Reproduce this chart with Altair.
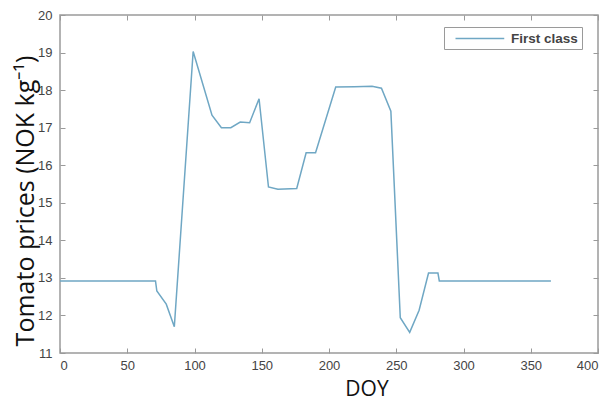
import altair as alt
import pandas as pd

doy = [0, 71, 72, 79, 85, 99, 113, 120, 127, 134, 141, 148, 155, 162, 176,
       183, 190, 205, 219, 232, 239, 246, 253, 260, 267, 274, 281, 282, 365]
price = [12.92, 12.92, 12.65, 12.3, 11.7, 19.03, 17.33, 17.0, 17.0, 17.15,
         17.13, 17.77, 15.42, 15.36, 15.38, 16.33, 16.33, 18.08, 18.09, 18.1,
         18.05, 17.44, 11.94, 11.55, 12.14, 13.13, 13.13, 12.92, 12.92]
series = ["First class"] * len(doy)
x_ticks = [0, 50, 100, 150, 200, 250, 300, 350, 400]
y_ticks = [11, 12, 13, 14, 15, 16, 17, 18, 19, 20]

df = pd.DataFrame({"doy": doy, "price": price, "series": series})

LINE = "#6fa7c4"
AX = "#9a9a9a"
LAB = "#444444"

xscale = alt.Scale(domain=[0, 400], nice=False)
yscale = alt.Scale(domain=[11, 20], nice=False, zero=False)

main = alt.Chart(df).mark_line(strokeWidth=1.5).encode(
    x=alt.X("doy:Q", scale=xscale,
            axis=alt.Axis(orient="bottom", values=x_ticks, domain=False,
                          tickSize=5, offset=-5, tickColor=AX, tickWidth=1,
                          labelPadding=6, labelFontSize=13, labelColor=LAB,
                          labelFont="Liberation Sans", grid=False,
                          title="DOY", titleFont="Open Sans", titleFontSize=21,
                          titleFontWeight="normal", titleColor="#111",
                          titleX=306.5, titleAlign="center", titlePadding=6)),
    y=alt.Y("price:Q", scale=yscale,
            axis=alt.Axis(orient="left", values=y_ticks, domain=False,
                          tickSize=5, offset=-5, tickColor=AX, tickWidth=1,
                          labelPadding=8, labelFontSize=13, labelColor=LAB,
                          labelFont="Liberation Sans", grid=False,
                          title="Tomato prices (NOK kg\u207b\u00b9)",
                          titleFont="Open Sans", titleFontSize=25,
                          titleFontWeight="normal", titleColor="#111",
                          titleY=185.5, titleAlign="center",
                          titlePadding=-1)),
    color=alt.Color("series:N", scale=alt.Scale(range=[LINE]),
                    legend=alt.Legend(orient="none", legendX=384, legendY=12,
                                      title=None, symbolType="M0,0H7.5",
                                      symbolSize=169, symbolStrokeWidth=1.5,
                                      labelFontSize=13.5, labelFont="Liberation Sans",
                                      labelFontWeight="bold", labelColor=LAB,
                                      strokeColor=AX, fillColor="white",
                                      padding=4, labelOffset=48)),
)

frame = alt.Chart(df).mark_line(opacity=0).encode(
    x=alt.X("doy:Q", scale=xscale,
            axis=alt.Axis(orient="top", values=x_ticks, domain=False,
                          tickSize=5, offset=-5, tickColor=AX, labels=False,
                          grid=False, title=None)),
    y=alt.Y("price:Q", scale=yscale,
            axis=alt.Axis(orient="right", values=y_ticks, domain=False,
                          tickSize=5, offset=-5, tickColor=AX, labels=False,
                          grid=False, title=None)),
)

chart = alt.layer(main, frame).resolve_axis(
    x="independent", y="independent"
).properties(
    width=538, height=338,
    autosize=alt.AutoSizeParams(type="none"),
    padding={"left": 52, "top": 7, "right": 6, "bottom": 48},
).configure_view(stroke=AX, strokeWidth=1.5)

chart.save("out.html", embed_options={"renderer": "svg", "actions": False})
